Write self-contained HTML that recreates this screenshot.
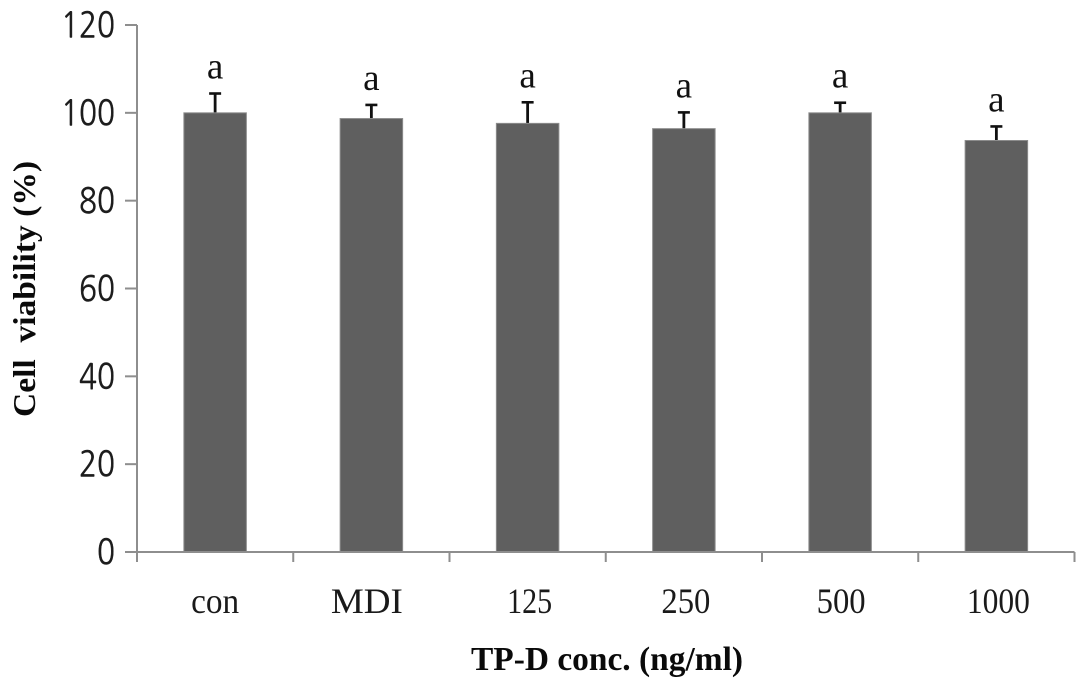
<!DOCTYPE html>
<html lang="en">
<head>
<meta charset="utf-8">
<title>Cell viability chart</title>
<style>
html,body{margin:0;padding:0;background:#fff;}
svg{display:block;}
.ytick{font-family:"NanumGothic","DejaVu Sans",sans-serif;font-size:35px;fill:#1c1c1c;stroke:#1c1c1c;stroke-width:0.5px;}
.xtick{font-family:"Liberation Serif",serif;font-size:36px;fill:#1a1a1a;}
.sig{font-family:"Liberation Serif",serif;font-size:37px;fill:#111;}
.title{font-family:"Liberation Serif",serif;font-weight:bold;fill:#0a0a0a;}
</style>
</head>
<body>
<svg id="chart" xmlns="http://www.w3.org/2000/svg" width="1087" height="689" viewBox="0 0 1087 689">
  <rect x="0" y="0" width="1087" height="689" fill="#ffffff"/>
  <g id="marks"></g>
  <text class="title" transform="translate(35,289) rotate(-90)" text-anchor="middle" font-size="32" textLength="256" lengthAdjust="spacingAndGlyphs" xml:space="preserve">Cell  viability (%)</text>
  <text class="title" x="607" y="670" text-anchor="middle" font-size="34" textLength="272" lengthAdjust="spacingAndGlyphs">TP-D conc. (ng/ml)</text>
</svg>
<script>
const categories = ['con', 'MDI', '125', '250', '500', '1000'];
const viability = [100, 98.7, 97.6, 96.4, 100, 93.7];
const errorTops = [104.4, 101.8, 102.4, 100.1, 102.3, 96.9];
const significance = ['a', 'a', 'a', 'a', 'a', 'a'];
const yTicks = [0, 20, 40, 60, 80, 100, 120];

const NS = 'http://www.w3.org/2000/svg';
const marks = document.getElementById('marks');
const plot = { left: 137, right: 1074.5, top: 25, bottom: 552, yMax: 120 };
const barWidth = 62.5;
const labelFit = {
  'con': { shift: 0, width: 48 },
  'MDI': { shift: -4.5, width: 72 },
  '125': { shift: 2, width: 45 },
  '250': { shift: 2, width: 49 },
  '500': { shift: 1, width: 49 },
  '1000': { shift: 2, width: 63 }
};

function yScale(v) {
  return plot.bottom - (v / plot.yMax) * (plot.bottom - plot.top);
}
function xBand(i) {
  return plot.left + i * (plot.right - plot.left) / categories.length;
}
function xCenter(i) {
  return (xBand(i) + xBand(i + 1)) / 2;
}
function make(tag, attrs, parent) {
  const el = document.createElementNS(NS, tag);
  for (const k in attrs) el.setAttribute(k, attrs[k]);
  (parent || marks).appendChild(el);
  return el;
}

categories.forEach(function (cat, i) {
  const cx = xCenter(i);
  const top = yScale(viability[i]);
  const errTop = yScale(errorTops[i]);

  const stem = make('line', { x1: cx, x2: cx, y1: errTop, y2: top, stroke: '#111', 'stroke-width': 2.8 });
  
  

  const cap = make('line', { x1: cx - 6, x2: cx + 6, y1: errTop, y2: errTop, stroke: '#111', 'stroke-width': 2.6 });
  
  

  const bar = make('rect', { x: cx - barWidth / 2, y: top, width: barWidth, height: plot.bottom - top, fill: '#5f5f5f', stroke: '#8c8c8c', 'stroke-width': 1 });
  
  

  const sig = make('text', { class: 'sig', x: cx, y: errTop - 15, 'text-anchor': 'middle' });
  sig.textContent = significance[i];
  
  

  const fit = labelFit[cat] || { shift: 0, width: 50 };
  const label = make('text', { class: 'xtick', x: cx + fit.shift, y: 613, 'text-anchor': 'middle', textLength: fit.width, lengthAdjust: 'spacingAndGlyphs' });
  label.textContent = cat;
  
  
});

const yAxis = make('line', { x1: plot.left, x2: plot.left, y1: plot.top, y2: 562, stroke: '#8e8e8e', 'stroke-width': 2 });



const xAxis = make('line', { x1: 125, x2: plot.right, y1: plot.bottom, y2: plot.bottom, stroke: '#8e8e8e', 'stroke-width': 2 });



yTicks.forEach(function (t) {
  const y = yScale(t);
  const tick = make('line', { x1: 125, x2: plot.left, y1: y, y2: y, stroke: '#8e8e8e', 'stroke-width': 2 });
  
  

  const label = make('text', { class: 'ytick', x: 115, y: y + 12.5, 'text-anchor': 'end', textLength: String(t).length * 18, lengthAdjust: 'spacingAndGlyphs' });
  label.textContent = t;
  
  
});

for (let i = 1; i <= categories.length; i++) {
  const x = xBand(i);
  const tick = make('line', { x1: x, x2: x, y1: plot.bottom, y2: 562, stroke: '#8e8e8e', 'stroke-width': 2 });
  
  
}
</script>
</body>
</html>
